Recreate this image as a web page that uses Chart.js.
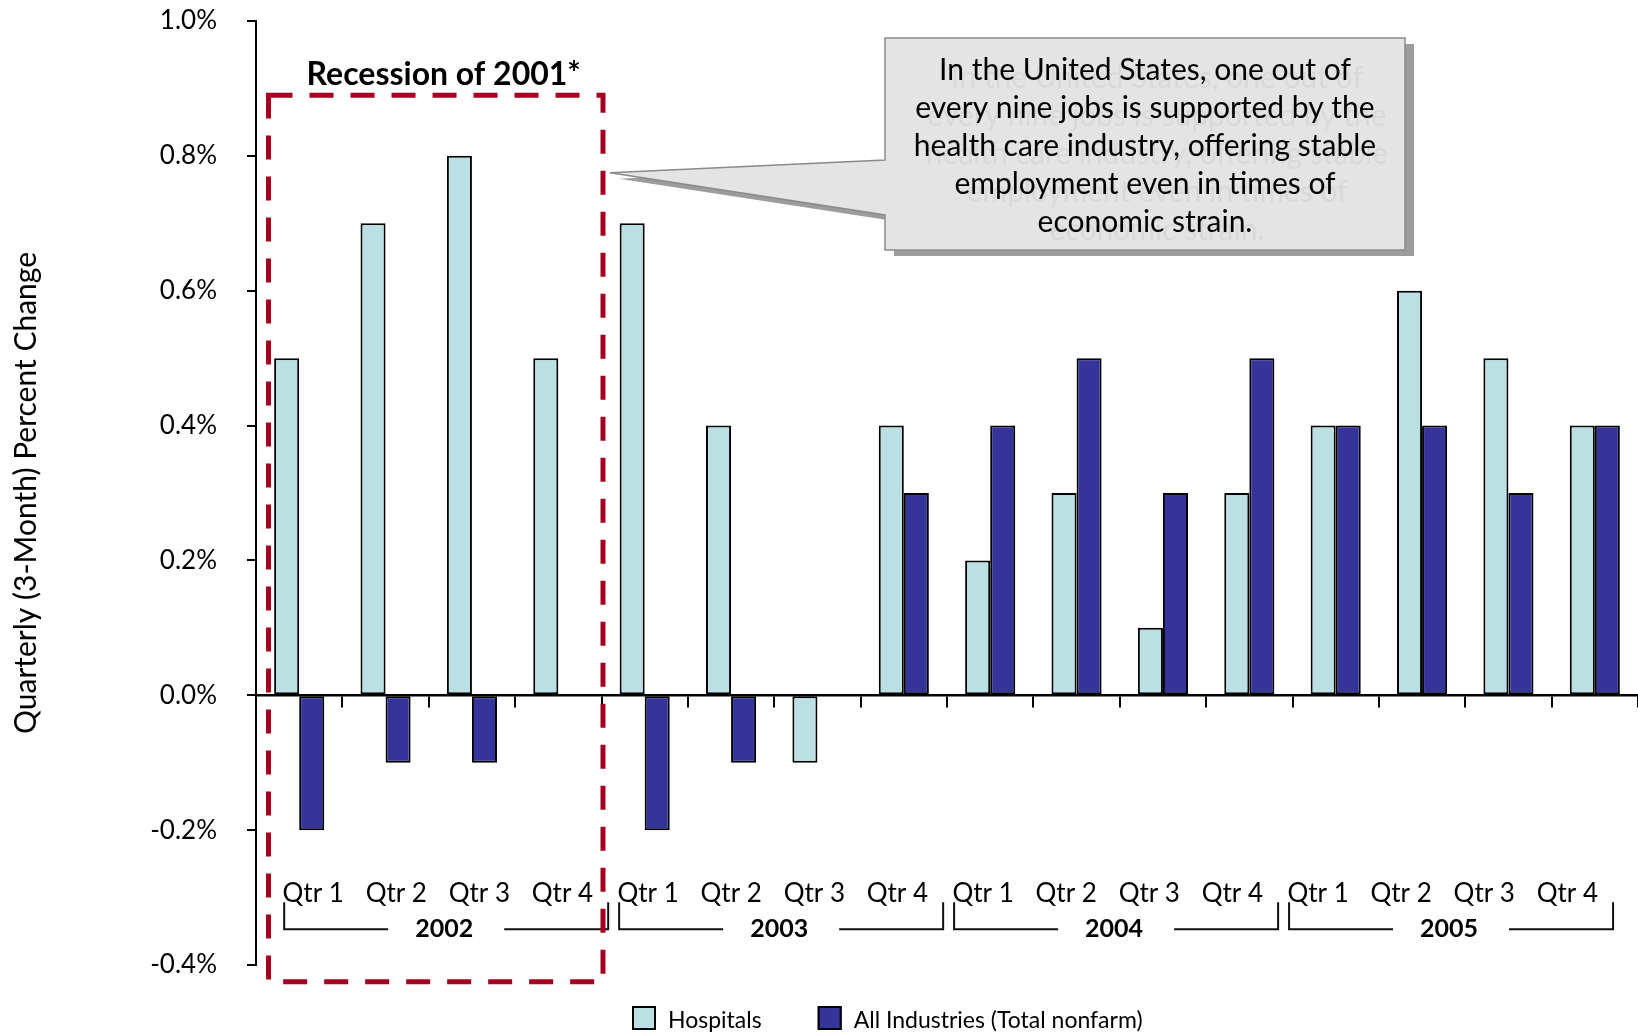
<!DOCTYPE html>
<html><head><meta charset="utf-8">
<script src="https://cdn.jsdelivr.net/npm/chart.js@4.4.1/dist/chart.umd.min.js"></script>
<style>html,body{margin:0;padding:0;background:#fff}#wrap{width:1638px;height:1036px}</style>
</head><body><div id="wrap"><canvas id="c" width="1638" height="1036"></canvas></div>
<script>
const quarters = ['Qtr 1','Qtr 2','Qtr 3','Qtr 4','Qtr 1','Qtr 2','Qtr 3','Qtr 4','Qtr 1','Qtr 2','Qtr 3','Qtr 4','Qtr 1','Qtr 2','Qtr 3','Qtr 4'];
const years = ['2002','2003','2004','2005'];
const hospitals = [0.5,0.7,0.8,0.5, 0.7,0.4,-0.1,0.4, 0.2,0.3,0.1,0.3, 0.4,0.6,0.5,0.4];
const allIndustries = [-0.2,-0.1,-0.1,null, -0.2,-0.1,null,0.3, 0.4,0.5,0.3,0.5, 0.4,0.4,0.3,0.4];
const yTicks = [-0.4,-0.2,0,0.2,0.4,0.6,0.8,1.0];
const seriesNames = ['Hospitals','All Industries (Total nonfarm)'];
const yTitle = 'Quarterly (3-Month) Percent Change';
const recessionLabel = 'Recession of 2001*';
const calloutLines = ['In the United States, one out of','every nine jobs is supported by the','health care industry, offering stable','employment even in times of','economic strain.'];

const FONT = 'Lato';
const RED = '#A50021';

const annot = {
  id: 'annot',
  afterDraw(chart) {
    const ctx = chart.ctx, x = chart.scales.x, y = chart.scales.y;
    const cw = x.getPixelForValue(1) - x.getPixelForValue(0);
    const bound = i => x.getPixelForValue(i) - cw / 2;
    const zero = y.getPixelForValue(0);
    ctx.save();
    // quarter labels, brackets and years (laid out as a label table under the axis)
    const yearStep = cw * 3.878, qStep = cw * 0.962;
    const groupStart = k => x.getPixelForValue(0) + 14 + k * yearStep;
    ctx.fillStyle = '#000'; ctx.textAlign = 'center'; ctx.textBaseline = 'middle';
    ctx.font = '26px ' + FONT;
    quarters.forEach((q, i) => {
      const k = Math.floor(i / 4), j = i % 4;
      ctx.fillText(q, groupStart(k) + j * qStep, zero + 198);
    });
    ctx.strokeStyle = '#111'; ctx.lineWidth = 2;
    ctx.font = 'bold 25px ' + FONT;
    const topB = zero + 207, botB = zero + 234;
    years.forEach((yr, k) => {
      const l = groupStart(k) - 29, r = groupStart(k) + 295;
      const c = (l + r) / 2;
      ctx.beginPath();
      ctx.moveTo(l, topB); ctx.lineTo(l, botB); ctx.lineTo(c - 58, botB);
      ctx.moveTo(c + 58, botB); ctx.lineTo(r, botB); ctx.lineTo(r, topB);
      ctx.stroke();
      ctx.fillText(yr, c - 2, botB);
    });
    // recession box
    const rl = x.getPixelForValue(0) - cw * 0.355, rr = bound(4) + 1.5;
    const rt = y.getPixelForValue(0.89), rb = y.getPixelForValue(-0.425);
    ctx.strokeStyle = RED; ctx.lineWidth = 5; ctx.setLineDash([24, 17]);
    ctx.strokeRect(rl, rt, rr - rl, rb - rt);
    ctx.setLineDash([]);
    ctx.font = 'bold 32px ' + FONT; ctx.fillStyle = '#000';
    ctx.fillText(recessionLabel, (rl + rr) / 2 + 8, rt - 20);
    // callout
    const bx = 885, by = 38, bw = 520, bh = 212;
    const tipX = rr + 7, tipY = y.getPixelForValue(0.775);
    const py1 = 160, py2 = 215;
    const shape = (dx, dy) => {
      ctx.beginPath();
      ctx.moveTo(bx + dx, by + dy); ctx.lineTo(bx + bw + dx, by + dy);
      ctx.lineTo(bx + bw + dx, by + bh + dy); ctx.lineTo(bx + dx, by + bh + dy);
      ctx.lineTo(bx + dx, py2 + dy); ctx.lineTo(tipX + dx, tipY + dy);
      ctx.lineTo(bx + dx, py1 + dy); ctx.closePath();
    };
    shape(9, 6); ctx.fillStyle = '#9c9c9c'; ctx.fill();
    shape(0, 0); ctx.fillStyle = '#e4e4e4'; ctx.fill();
    ctx.strokeStyle = '#8a8a8a'; ctx.lineWidth = 1.5; ctx.stroke();
    ctx.font = '30px ' + FONT;
    ctx.save();
    ctx.beginPath(); ctx.rect(bx, by, bw, bh); ctx.clip();
    ctx.fillStyle = '#d9d9d9';
    calloutLines.forEach((t, i) => ctx.fillText(t, bx + bw / 2 + 12, 70 + i * 38 + 8));
    ctx.restore();
    ctx.fillStyle = '#000';
    calloutLines.forEach((t, i) => ctx.fillText(t, bx + bw / 2, 70 + i * 38));
    // legend
    const ly = 1018, bs = 24;
    ctx.font = '23px ' + FONT; ctx.textAlign = 'left';
    let lx = 632;
    chart.data.datasets.forEach((ds) => {
      ctx.fillStyle = ds.backgroundColor; ctx.fillRect(lx, ly - bs / 2, bs, bs);
      ctx.strokeStyle = '#000'; ctx.lineWidth = 2; ctx.strokeRect(lx + 1, ly - bs / 2 + 1, bs - 2, bs - 2);
      ctx.fillStyle = '#000';
      ctx.fillText(ds.label, lx + bs + 12, ly + 3);
      lx += bs + 12 + ctx.measureText(ds.label).width + 56;
    });
    ctx.restore();
  }
};

new Chart(document.getElementById('c'), {
  type: 'bar',
  data: {
    labels: quarters,
    datasets: [
      {label: seriesNames[0], data: hospitals, backgroundColor: '#BAE0E3', borderColor: '#000', borderWidth: 2, borderSkipped: false, categoryPercentage: 0.58, barPercentage: 1},
      {label: seriesNames[1], data: allIndustries, backgroundColor: '#35349A', borderColor: '#000', borderWidth: 2, borderSkipped: false, categoryPercentage: 0.58, barPercentage: 1}
    ]
  },
  options: {
    responsive: false, animation: false,
    layout: {padding: {top: 21, bottom: 71, left: 0, right: 0}},
    plugins: {legend: {display: false}, tooltip: {enabled: false}},
    scales: {
      x: {
        position: {y: 0},
        afterFit: s => { s.paddingLeft = 0; s.paddingRight = 0; },
        grid: {drawOnChartArea: false, drawTicks: true, tickLength: 11, offset: true, color: '#000', lineWidth: 2},
        border: {display: true, color: '#000', width: 2.5},
        ticks: {display: false}
      },
      y: {
        min: -0.4, max: 1.0,
        afterBuildTicks: s => { s.ticks = yTicks.map(v => ({value: v})); },
        afterFit: s => { s.width = 256; s.paddingTop = 10; s.paddingBottom = 10; },
        grid: {drawOnChartArea: false, tickLength: 9, color: '#000', lineWidth: 2},
        border: {display: true, color: '#000', width: 2},
        ticks: {callback: v => v.toFixed(1) + '%', font: {family: FONT, size: 26}, color: '#000', padding: 30},
        title: {display: true, text: yTitle, font: {family: FONT, size: 30}, color: '#000', padding: {top: 8, bottom: 0}}
      }
    }
  },
  plugins: [annot]
});
</script></body></html>
